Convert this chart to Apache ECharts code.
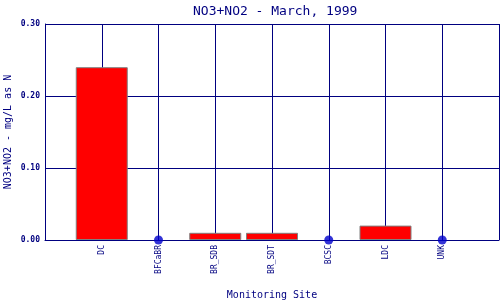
<!DOCTYPE html>
<html>
<head>
<meta charset="utf-8">
<script src="https://cdn.jsdelivr.net/npm/echarts@6/dist/echarts.min.js"></script>
<style>html,body{margin:0;padding:0;background:#fff}#c{width:500px;height:300px}</style>
</head>
<body>
<div id="c"></div>
<script>
var sites = ['DC', 'BFCaBR', 'BR_SDB', 'BR_SDT', 'BCSC', 'LDC', 'UNK'];
var values = [0.24, 0, 0.01, 0.01, 0, 0.02, 0];
var yTicks = ['0.00', '0.10', '0.20', '0.30'];
var titleText = 'NO3+NO2 - March, 1999';
var xName = 'Monitoring Site';
var yName = 'NO3+NO2 - mg/L as N';

var navy = '#000080';
var font = 'DejaVu Sans Mono';
var cats = [''].concat(sites).concat(['']);
var barData = [null].concat(values.map(function (v) { return v > 0 ? v : null; })).concat([null]);
var dotData = [null].concat(values.map(function (v) { return v === 0 ? v : null; })).concat([null]);

var chart = echarts.init(document.getElementById('c'), null, {renderer: 'canvas'});
chart.setOption({
  animation: false,
  title: {
    text: titleText, left: 188, top: 0,
    textStyle: {color: navy, fontFamily: font, fontSize: 13, fontWeight: 'normal'}
  },
  grid: {left: 45, right: 1, top: 24, bottom: 60, containLabel: false, outerBoundsMode: 'none'},
  xAxis: {
    type: 'category', data: cats, boundaryGap: false,
    name: xName, nameLocation: 'middle', nameGap: 50, nameMoveOverlap: false,
    nameTextStyle: {color: navy, fontFamily: font, fontSize: 10},
    axisLine: {show: true, lineStyle: {color: navy, width: 1}},
    axisTick: {show: false},
    axisLabel: {color: navy, fontFamily: font, fontSize: 8, rotate: 90, margin: 5, interval: 0},
    splitLine: {show: true, lineStyle: {color: navy, width: 1}}
  },
  yAxis: {
    type: 'value', min: 0, max: 0.3, interval: 0.1,
    name: yName, nameLocation: 'middle', nameGap: 32, nameMoveOverlap: false,
    nameTextStyle: {color: navy, fontFamily: font, fontSize: 10},
    axisLine: {show: true, lineStyle: {color: navy, width: 1}},
    axisTick: {show: false},
    axisLabel: {color: navy, fontFamily: font, fontSize: 8, fontWeight: 'bold', margin: 5,
      formatter: function (v) { return yTicks[Math.round(v * 10)]; }},
    splitLine: {show: true, lineStyle: {color: navy, width: 1}}
  },
  series: [
    {
      type: 'bar', data: barData, barWidth: 52,
      itemStyle: {color: '#ff0000', borderColor: '#808080', borderWidth: 1}
    },
    {
      type: 'scatter', data: dotData, symbol: 'circle', symbolSize: 9,
      itemStyle: {color: '#0000cc'}, z: 5
    }
  ]
});
</script>
</body>
</html>
